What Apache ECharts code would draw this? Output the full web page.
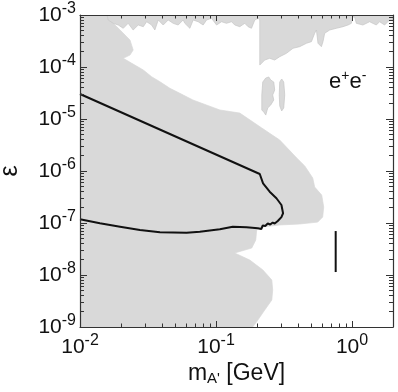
<!DOCTYPE html>
<html>
<head>
<meta charset="utf-8">
<script src="https://cdn.jsdelivr.net/npm/echarts@6.0.0/dist/echarts.min.js"></script>
<style>
  html, body { margin: 0; padding: 0; background: #fff; }
  #main { width: 398px; height: 392px; }
</style>
</head>
<body>
<div id="main"></div>
<script>
// excluded region (grey), main body on the left
var mainRegion = [
  [0.01, 1e-3], [0.0158, 1e-3], [0.0161, 8.02e-4], [0.0171, 7.43e-4], [0.0197, 5.15e-4],
  [0.0233, 3.30e-4], [0.0246, 2.12e-4], [0.0233, 1.70e-4], [0.0208, 1.47e-4], [0.0240, 1.18e-4],
  [0.0292, 8.75e-5], [0.0336, 6.50e-5], [0.0387, 5.21e-5], [0.0458, 3.89e-5], [0.0542, 3.12e-5],
  [0.0676, 2.32e-5], [0.1067, 1.49e-5], [0.1495, 1.30e-5], [0.217, 6.71e-6], [0.294, 3.94e-6],
  [0.392, 1.78e-6], [0.449, 1.25e-6], [0.514, 7.33e-7], [0.531, 4.92e-7], [0.598, 3.45e-7],
  [0.619, 2.03e-7], [0.608, 1.30e-7], [0.559, 1.04e-7], [0.412, 9.57e-8], [0.294, 9.16e-8],
  [0.217, 8.38e-8], [0.199, 7.33e-8], [0.196, 4.71e-8], [0.183, 3.30e-8], [0.137, 2.65e-8],
  [0.177, 1.94e-8], [0.221, 1.25e-8], [0.257, 8.02e-9], [0.261, 5.15e-9], [0.257, 3.30e-9],
  [0.228, 2.12e-9], [0.203, 1.36e-9], [0.186, 1e-9], [0.01, 1e-9]
];

// jagged band along the top edge
var topBand = [
  [0.0158, 1e-3], [0.0161, 8.02e-4], [0.01756, 6.92e-4], [0.0191, 6.42e-4], [0.0208, 5.55e-4],
  [0.0226, 6.92e-4], [0.0246, 5.15e-4], [0.0268, 6.42e-4], [0.0292, 5.96e-4], [0.0309, 7.43e-4],
  [0.0336, 6.42e-4], [0.0355, 5.15e-4], [0.0376, 8.02e-4], [0.0409, 6.42e-4], [0.0445, 8.02e-4],
  [0.0484, 6.92e-4], [0.0527, 6.42e-4], [0.0573, 8.02e-4], [0.0590, 6.92e-4], [0.0642, 5.55e-4],
  [0.0679, 8.02e-4], [0.0739, 7.43e-4], [0.0804, 6.42e-4], [0.0852, 8.02e-4], [0.0927, 8.64e-4],
  [0.1009, 6.42e-4], [0.1098, 7.43e-4], [0.1194, 6.92e-4], [0.130, 7.43e-4], [0.1374, 6.42e-4],
  [0.1495, 5.96e-4], [0.1627, 6.92e-4], [0.172, 5.96e-4], [0.1822, 5.55e-4], [0.1927, 8.02e-4],
  [0.2038, 8.64e-4], [0.2097, 8.02e-4], [0.2097, 1.09e-4], [0.228, 1.36e-4], [0.248, 1.47e-4],
  [0.270, 1.36e-4], [0.294, 1.58e-4], [0.329, 1.83e-4], [0.368, 2.29e-4], [0.412, 2.46e-4],
  [0.462, 2.86e-4], [0.5025, 3.07e-4], [0.531, 4.45e-4], [0.547, 5.15e-4], [0.562, 2.86e-4],
  [0.595, 2.46e-4], [0.6115, 3.07e-4], [0.629, 4.45e-4], [0.685, 5.15e-4], [0.767, 5.55e-4],
  [0.8575, 5.96e-4], [0.933, 6.42e-4], [0.988, 6.92e-4], [1.0102, 9.15e-4], [1.045, 9.15e-4],
  [1.075, 6.92e-4], [1.202, 6.42e-4], [1.346, 7.43e-4], [1.508, 6.42e-4], [1.594, 7.43e-4],
  [1.735, 6.42e-4], [1.889, 8.02e-4], [2, 8.02e-4], [2, 1e-3]
];

// two small islands under the band
var islandA = [
  [0.217, 1.49e-5], [0.217, 2.90e-5], [0.2206, 5.15e-5], [0.2321, 6.14e-5], [0.2442, 6.43e-5],
  [0.2525, 5.62e-5], [0.2657, 5.15e-5], [0.270, 3.61e-5], [0.261, 2.90e-5], [0.2657, 2.32e-5],
  [0.2525, 1.86e-5], [0.240, 1.63e-5], [0.2321, 1.19e-5], [0.2244, 1.36e-5]
];
var islandB = [
  [0.294, 5.15e-5], [0.304, 5.88e-5], [0.3146, 5.15e-5], [0.320, 2.90e-5],
  [0.3146, 1.63e-5], [0.304, 1.43e-5], [0.294, 1.78e-5], [0.2916, 2.90e-5]
];

// black contour
var contourLine = [
  [0.01, 3.03e-5], [0.2097, 8.75e-7], [0.2217, 5.80e-7], [0.248, 4.0e-7], [0.278, 2.99e-7],
  [0.3026, 2.22e-7], [0.311, 1.54e-7], [0.3026, 1.30e-7], [0.2843, 1.09e-7], [0.270, 9.78e-8],
  [0.261, 1.02e-7], [0.2504, 9.36e-8], [0.240, 9.78e-8], [0.2301, 8.75e-8], [0.2206, 8.95e-8],
  [0.2151, 7.67e-8], [0.203, 7.91e-8], [0.1675, 8.26e-8], [0.1328, 8.49e-8], [0.1067, 7.57e-8],
  [0.076, 6.80e-8], [0.0607, 6.50e-8], [0.0387, 6.62e-8], [0.0276, 7.33e-8], [0.0197, 8.49e-8],
  [0.0140, 9.86e-8], [0.01, 1.18e-7]
];
var peakLine = [[0.758, 7.0e-8], [0.758, 1.14e-8]];

// ticks
var xMajor = [0.01, 0.1, 1];
var yMajor = [1e-9, 1e-8, 1e-7, 1e-6, 1e-5, 1e-4, 1e-3];
var xMinor = [], yMinor = [];
[0.01, 0.1, 1].forEach(function (d) {
  for (var k = 2; k <= 9; k++) if (k * d <= 2) xMinor.push(k * d);
});
yMajor.slice(0, 6).forEach(function (d) {
  for (var k = 2; k <= 9; k++) yMinor.push(k * d);
});

var FONT = 'Liberation Sans, Arial, sans-serif';
var regions = [mainRegion, topBand, islandA, islandB];

function powLabel(v) {
  var e = Math.round(Math.log(v) / Math.LN10);
  return '{b|10}{s|' + e + '}';
}
var labelRich = {
  b: { fontSize: 21, fontFamily: FONT, color: '#111', lineHeight: 28, verticalAlign: 'middle' },
  s: { fontSize: 16, fontFamily: FONT, color: '#111', lineHeight: 16, verticalAlign: 'top' }
};

var frameLine = { show: true, lineStyle: { color: '#333', width: 1.2 } };

function xAx(grid, pos, ticks, len, withLabel) {
  return {
    type: 'log', logBase: 10, min: 0.01, max: 2, gridIndex: grid, position: pos, z: 5,
    axisLine: grid === 0 ? frameLine : { show: false },
    axisTick: { show: true, inside: true, length: len, customValues: ticks, lineStyle: { color: '#333' } },
    axisLabel: withLabel ? { show: true, customValues: xMajor, formatter: powLabel, rich: labelRich, margin: 6 } : { show: false },
    splitLine: { show: false },
    minorTick: { show: false }
  };
}
function yAx(grid, pos, ticks, len, withLabel) {
  return {
    type: 'log', logBase: 10, min: 1e-9, max: 1e-3, gridIndex: grid, position: pos, z: 5,
    axisLine: grid === 0 ? frameLine : { show: false },
    axisTick: { show: true, inside: true, length: len, customValues: ticks, lineStyle: { color: '#333' } },
    axisLabel: withLabel ? { show: true, customValues: yMajor, formatter: powLabel, rich: labelRich, margin: 4 } : { show: false },
    splitLine: { show: false },
    minorTick: { show: false }
  };
}

var xAxes = [xAx(0, 'bottom', xMajor, 6, true), xAx(0, 'top', xMajor, 6, false),
             xAx(1, 'bottom', xMinor, 3.5, false), xAx(1, 'top', xMinor, 3.5, false)];
var yAxes = [yAx(0, 'left', yMajor, 7, true), yAx(0, 'right', yMajor, 7, false),
             yAx(1, 'left', yMinor, 4, false), yAx(1, 'right', yMinor, 4, false)];

xAxes[0].name = "m{sub|A'} [GeV]";
xAxes[0].nameLocation = 'middle';
xAxes[0].nameGap = 31;
xAxes[0].nameTextStyle = {
  fontSize: 23, fontFamily: FONT, color: '#111',
  rich: { sub: { fontSize: 15, fontFamily: FONT, color: '#111', verticalAlign: 'bottom', padding: [9, 0, 0, 0] } }
};
yAxes[0].name = 'ε';
yAxes[0].nameLocation = 'middle';
yAxes[0].nameGap = 57;
yAxes[0].nameTextStyle = { fontSize: 25, fontFamily: FONT, color: '#111' };

var myChart = echarts.init(document.getElementById('main'));
var option = {
  backgroundColor: '#fff',
  animation: false,
  grid: [
    { left: 80, top: 15, right: 5, bottom: 65, outerBoundsMode: 'none', containLabel: false },
    { left: 80, top: 15, right: 5, bottom: 65, outerBoundsMode: 'none', containLabel: false }
  ],
  xAxis: xAxes,
  yAxis: yAxes,
  graphic: [{
    type: 'text', left: 329, top: 69, z: 10,
    style: {
      text: '{b|e}{s|+}{b|e}{s|-}', fontFamily: FONT, fill: '#111',
      rich: {
        b: { fontSize: 22, fontFamily: FONT, lineHeight: 26, verticalAlign: 'middle' },
        s: { fontSize: 14, fontFamily: FONT, lineHeight: 14, verticalAlign: 'top' }
      }
    }
  }],
  series: [
    {
      type: 'custom',
      xAxisIndex: 0, yAxisIndex: 0,
      clip: true,
      z: 1,
      data: regions.map(function (r) { return r[0]; }),
      renderItem: function (params, api) {
        var pts = regions[params.dataIndex].map(function (p) { return api.coord(p); });
        return {
          type: 'polygon',
          shape: { points: pts },
          style: { fill: '#d9d9d9', stroke: params.dataIndex === 0 ? '#d9d9d9' : '#c6c6c6', lineWidth: 0.7 }
        };
      }
    },
    {
      type: 'line', xAxisIndex: 0, yAxisIndex: 0, data: contourLine,
      showSymbol: false, symbol: 'none', z: 3,
      lineStyle: { color: '#111', width: 2 }
    },
    {
      type: 'line', xAxisIndex: 0, yAxisIndex: 0, data: peakLine,
      showSymbol: false, symbol: 'none', z: 3,
      lineStyle: { color: '#111', width: 2 }
    }
  ]
};
myChart.setOption(option);
</script>
</body>
</html>
